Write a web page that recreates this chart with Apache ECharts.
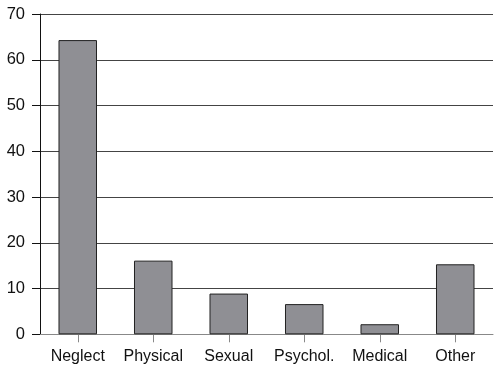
<!DOCTYPE html>
<html><head><meta charset="utf-8">
<script src="https://cdn.jsdelivr.net/npm/echarts@6/dist/echarts.min.js"></script>
<style>html,body{margin:0;padding:0;background:#fff}#c{width:500px;height:373px}</style>
</head><body><div id="c"></div>
<script>
const categories = ["Neglect", "Physical", "Sexual", "Psychol.", "Medical", "Other"];
const values = [64.3, 16.1, 8.9, 6.6, 2.2, 15.3];
const yTicks = [0, 10, 20, 30, 40, 50, 60, 70];

const chart = echarts.init(document.getElementById('c'), null, {renderer: 'canvas'});
chart.setOption({
  animation: false,
  grid: {left: 40, right: 7, top: 14, bottom: 38.7, containLabel: false},
  xAxis: {
    type: 'category', data: categories,
    axisLine: {show: true, lineStyle: {color: '#888', width: 1}},
    axisTick: {show: true, alignWithLabel: true, length: 8, lineStyle: {color: '#888'}},
    axisLabel: {color: '#111', fontSize: 16, interval: 0, hideOverlap: false, fontFamily: 'Liberation Sans, Arial, sans-serif', margin: 14}
  },
  yAxis: {
    type: 'value', min: yTicks[0], max: yTicks[yTicks.length - 1], interval: 10,
    axisLine: {show: true, lineStyle: {color: '#111', width: 1}},
    axisTick: {show: true, length: 8, lineStyle: {color: '#111'}},
    axisLabel: {color: '#111', fontSize: 16.5, fontFamily: 'Liberation Sans, Arial, sans-serif', margin: 15},
    splitLine: {show: true, lineStyle: {color: '#444', width: 1}}
  },
  series: [{
    type: 'bar', data: values, barWidth: '51%',
    itemStyle: {color: '#8f8f94', borderColor: '#222', borderWidth: 1}
  }]
});
</script></body></html>
